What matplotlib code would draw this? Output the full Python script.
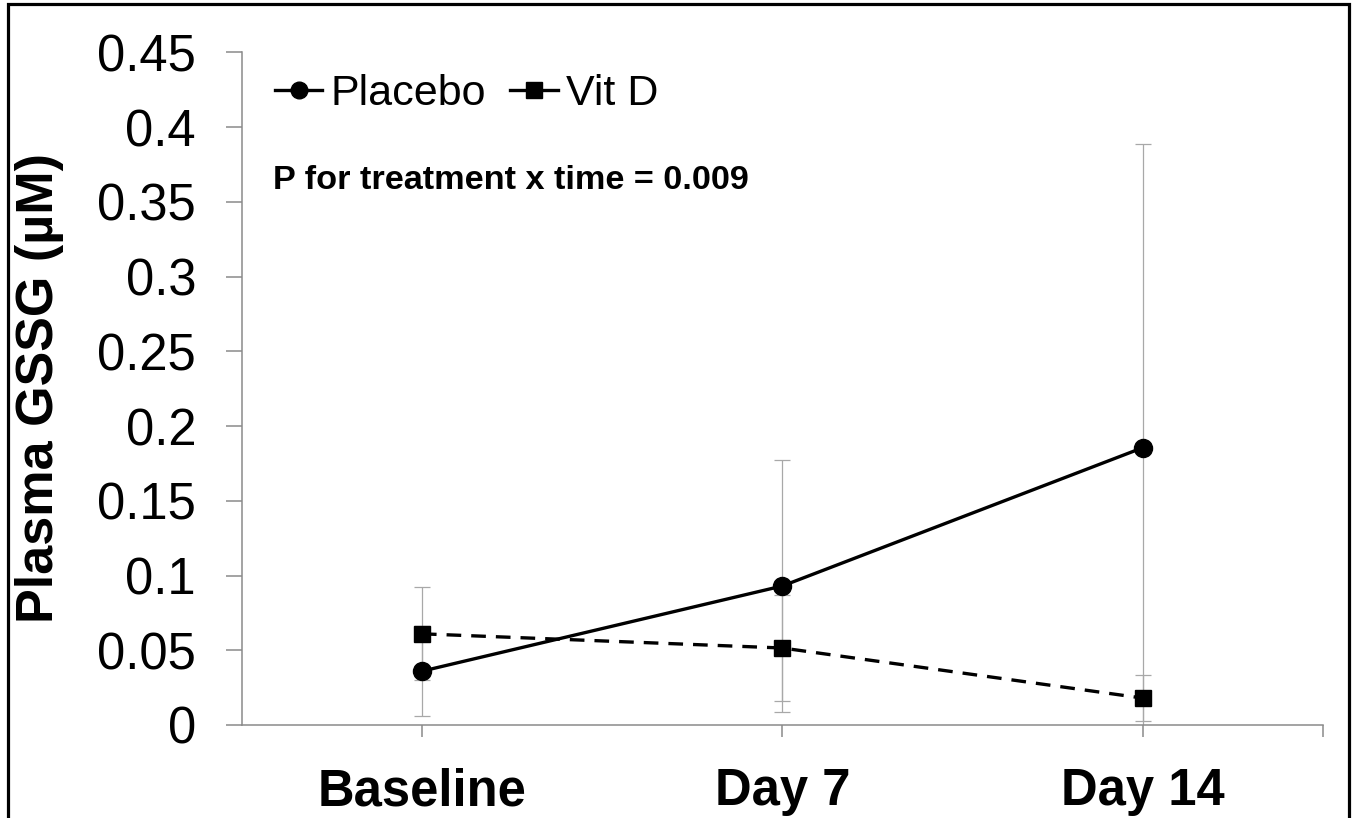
import matplotlib
matplotlib.use("Agg")
import matplotlib.pyplot as plt
from matplotlib.lines import Line2D
from matplotlib.patches import Rectangle

# ---- data ----
categories = ["Baseline", "Day 7", "Day 14"]
placebo_mean = [0.036, 0.093, 0.1855]
placebo_err = [0.030, 0.084, 0.203]
vitd_mean = [0.061, 0.0515, 0.018]
vitd_err = [0.031, 0.0355, 0.0155]
y_ticks = [0, 0.05, 0.1, 0.15, 0.2, 0.25, 0.3, 0.35, 0.4, 0.45]
y_ticklabels = ["0", "0.05", "0.1", "0.15", "0.2", "0.25", "0.3", "0.35", "0.4", "0.45"]
series_names = ["Placebo", "Vit D"]
annotation = "P for treatment x time = 0.009"
ylabel = "Plasma GSSG (\u00b5M)"

W, H = 1357, 818
plt.rcParams['font.family'] = ['Liberation Sans', 'DejaVu Sans']
fig = plt.figure(figsize=(W / 100, H / 100), dpi=100)
fig.patch.set_facecolor('white')

ax0, ax1 = 241.7, 1323.0
ay0, ay1 = 725.0, 52.3
ax = fig.add_axes([ax0 / W, 1 - ay0 / H, (ax1 - ax0) / W, (ay0 - ay1) / H])

x = list(range(len(categories)))
gray = "#8a8a8a"
ebc = "#a8a8a8"

ax.errorbar(x, placebo_mean, yerr=placebo_err, fmt='none', ecolor=ebc,
            elinewidth=0.9, capsize=6, capthick=0.9, zorder=2)
ax.errorbar(x, vitd_mean, yerr=vitd_err, fmt='none', ecolor=ebc,
            elinewidth=0.9, capsize=6, capthick=0.9, zorder=2)

ax.plot(x, placebo_mean, color='black', lw=2.4, marker='o', markersize=13,
        zorder=3, solid_capstyle='butt')
ln, = ax.plot(x, vitd_mean, color='black', lw=2.4, marker='s', markersize=11.5,
              zorder=3)
ln.set_dashes((4.4, 3.0))

ax.set_xlim(-0.5, 2.5)
ax.set_ylim(0, 0.45)
ax.set_yticks(y_ticks)
ax.set_yticklabels(y_ticklabels, fontsize=36.5)
ax.set_xticks(x + [2.5])
ax.set_xticklabels(categories + [""], fontsize=36.5, fontweight='bold')

for s in ['top', 'right']:
    ax.spines[s].set_visible(False)
for s in ['left', 'bottom']:
    ax.spines[s].set_color(gray)
    ax.spines[s].set_linewidth(1.1)
ax.tick_params(axis='y', direction='out', length=11.5, width=1.1, color=gray, pad=21.4)
ax.tick_params(axis='x', direction='out', length=8.6, width=1.1, color=gray, pad=22)

fig.text(40 / W, 1 - 388 / H, ylabel, rotation=90, ha='center', va='center',
         fontsize=37.5, fontweight='bold')

handles = [Line2D([], [], color='black', lw=2.4, marker='o', markersize=12),
           Line2D([], [], color='black', lw=2.4, marker='s', markersize=11)]
fig.legend(handles, series_names, loc='center left',
           bbox_to_anchor=(275 / W, 1 - 94 / H), ncol=2, frameon=False,
           fontsize=31, handlelength=1.1, handletextpad=0.2,
           columnspacing=0.55, borderpad=0, borderaxespad=0)

fig.text(273 / W, 1 - 189 / H, annotation, ha='left', va='baseline',
         fontsize=24.7, fontweight='bold')

fig.patches.append(Rectangle((7.5 / W, -0.05), (1348.5 - 7.5) / W, 1.05 - 4.5 / H,
                             transform=fig.transFigure, fill=False,
                             edgecolor='black', linewidth=2.3, zorder=10))

fig.savefig("out.png", dpi=100)
